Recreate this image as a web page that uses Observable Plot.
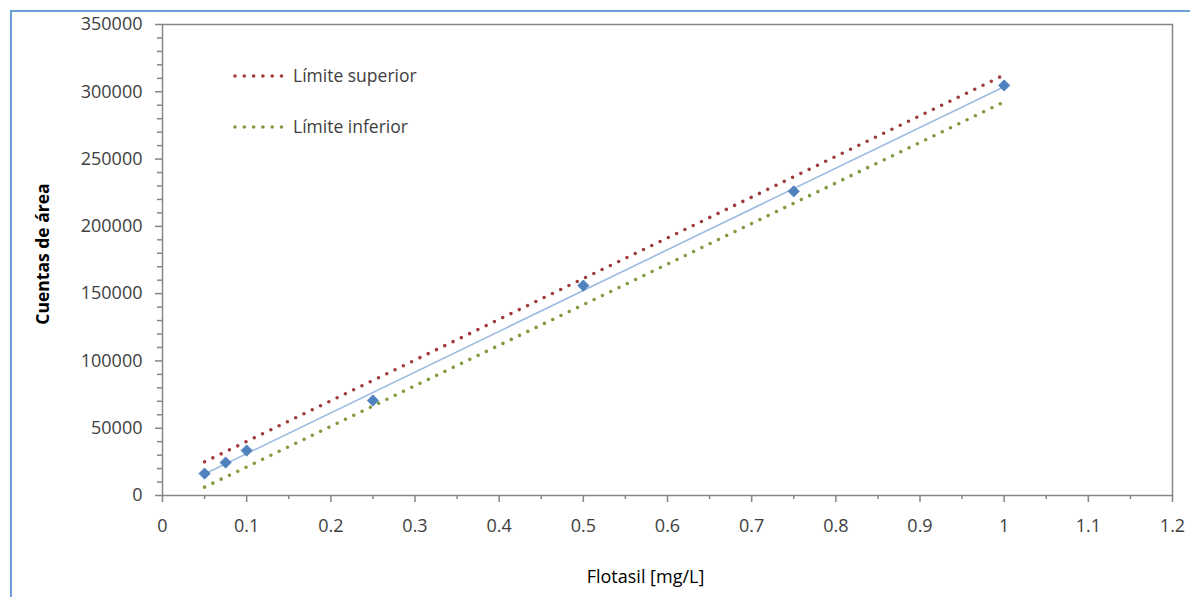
<!DOCTYPE html>
<html>
<head>
<meta charset="utf-8">
<script src="https://cdn.jsdelivr.net/npm/d3@7"></script>
<script src="https://cdn.jsdelivr.net/npm/@observablehq/plot@0.6"></script>
<style>
  html, body { margin: 0; padding: 0; background: #fff; overflow: hidden; }
  #wrap { position: relative; width: 1190px; height: 597px; }
  #border { position: absolute; left: 10px; top: 10px; width: 1300px; height: 700px; border: 2px solid #6A9FD8; box-sizing: border-box; }
  #chart { position: absolute; left: 0; top: 0; }
  #legend { position: absolute; left: 0; top: 0; }
  svg text { font-family: "Open Sans", sans-serif; }
</style>
</head>
<body>
<div id="wrap">
  <div id="border"></div>
  <div id="chart"></div>
  <svg id="legend" width="460" height="160"></svg>
</div>
<script>
// Data
const conc = [0.05, 0.075, 0.1, 0.25, 0.5, 0.75, 1.0];
const areas = [16300, 24500, 33400, 70600, 156000, 226000, 304700];
const limitX = [0.05, 1.0];
const upperY = [25000, 312500];
const lowerY = [6200, 292500];
const xTicks = [0, 0.1, 0.2, 0.3, 0.4, 0.5, 0.6, 0.7, 0.8, 0.9, 1, 1.1, 1.2];
const xMinorTicks = [0.05, 0.15, 0.25, 0.35, 0.45, 0.55, 0.65, 0.75, 0.85, 0.95, 1.05, 1.15];
const yTicks = [0, 50000, 100000, 150000, 200000, 250000, 300000, 350000];
const yMinorTicks = d3.range(0, 350001, 10000).filter(v => v % 50000 !== 0);
const legendItems = ["Límite superior", "Límite inferior"];
const legendColors = ["#A03C3A", "#7D9B3C"];

const points = conc.map((x, i) => ({x, y: areas[i]}));
const upper = limitX.map((x, i) => ({x, y: upperY[i]}));
const lower = limitX.map((x, i) => ({x, y: lowerY[i]}));

const squareDiamond = {
  draw(ctx, size) {
    const r = Math.sqrt(size / 2);
    ctx.moveTo(0, -r); ctx.lineTo(r, 0); ctx.lineTo(0, r); ctx.lineTo(-r, 0); ctx.closePath();
  }
};

const axisColor = "#868686";
const textColor = "#404040";

const chart = Plot.plot({
  width: 1190,
  height: 597,
  marginLeft: 162,
  marginRight: 18,
  marginTop: 24,
  marginBottom: 102,
  style: {fontSize: "18px", color: textColor, fontFamily: "Open Sans, sans-serif", background: "transparent"},
  x: {domain: [0, 1.2]},
  y: {domain: [0, 350000]},
  marks: [
    Plot.frame({stroke: axisColor, strokeWidth: 1.5}),
    Plot.axisX(xTicks, {tickSize: 7, tickPadding: 17, stroke: axisColor, strokeWidth: 1.5, fill: textColor, tickFormat: d => String(d), label: null}),
    Plot.axisX(xMinorTicks, {tickSize: 4, stroke: axisColor, strokeWidth: 1.5, tickFormat: () => "", label: null}),
    Plot.axisY(yTicks, {tickSize: 7, tickPadding: 13, stroke: axisColor, strokeWidth: 1.5, fill: textColor, tickFormat: d => String(d), label: null}),
    Plot.axisY(yMinorTicks, {tickSize: 5, stroke: axisColor, strokeWidth: 1.5, tickFormat: () => "", label: null}),
    Plot.line(upper, {x: "x", y: "y", stroke: legendColors[0], strokeWidth: 3.6, strokeDasharray: "0 9.2", strokeLinecap: "round"}),
    Plot.line(lower, {x: "x", y: "y", stroke: legendColors[1], strokeWidth: 3.6, strokeDasharray: "0 9.2", strokeLinecap: "round"}),
    Plot.linearRegressionY(points, {x: "x", y: "y", ci: 0, stroke: "#9EBCE2", strokeWidth: 1.6}),
    Plot.dot(points, {x: "x", y: "y", symbol: squareDiamond, r: 4.5, fill: "#4F81BD", stroke: "#4F81BD", strokeWidth: 0.8}),
    Plot.text(["Cuentas de área"], {frameAnchor: "left", textAnchor: "middle", dx: -119, dy: -6, rotate: -90, fontSize: 17.5, fontWeight: "bold", fill: "#000"}),
    Plot.text(["Flotasil [mg/L]"], {frameAnchor: "bottom", dx: -22, dy: 87, fontSize: 18, fill: "#000"})
  ]
});
document.getElementById("chart").appendChild(chart);

// Legend inside the plot area
const leg = d3.select("#legend");
const legY = [76, 127];
legendItems.forEach((label, i) => {
  leg.append("line")
    .attr("x1", 235).attr("x2", 282)
    .attr("y1", legY[i]).attr("y2", legY[i])
    .attr("stroke", legendColors[i]).attr("stroke-width", 3.6)
    .attr("stroke-dasharray", "0 9.3").attr("stroke-linecap", "round");
  leg.append("text")
    .attr("x", 293).attr("y", legY[i])
    .attr("dy", "0.35em")
    .attr("font-size", 17.5)
    .attr("fill", textColor)
    .text(label);
});
</script>
</body>
</html>
